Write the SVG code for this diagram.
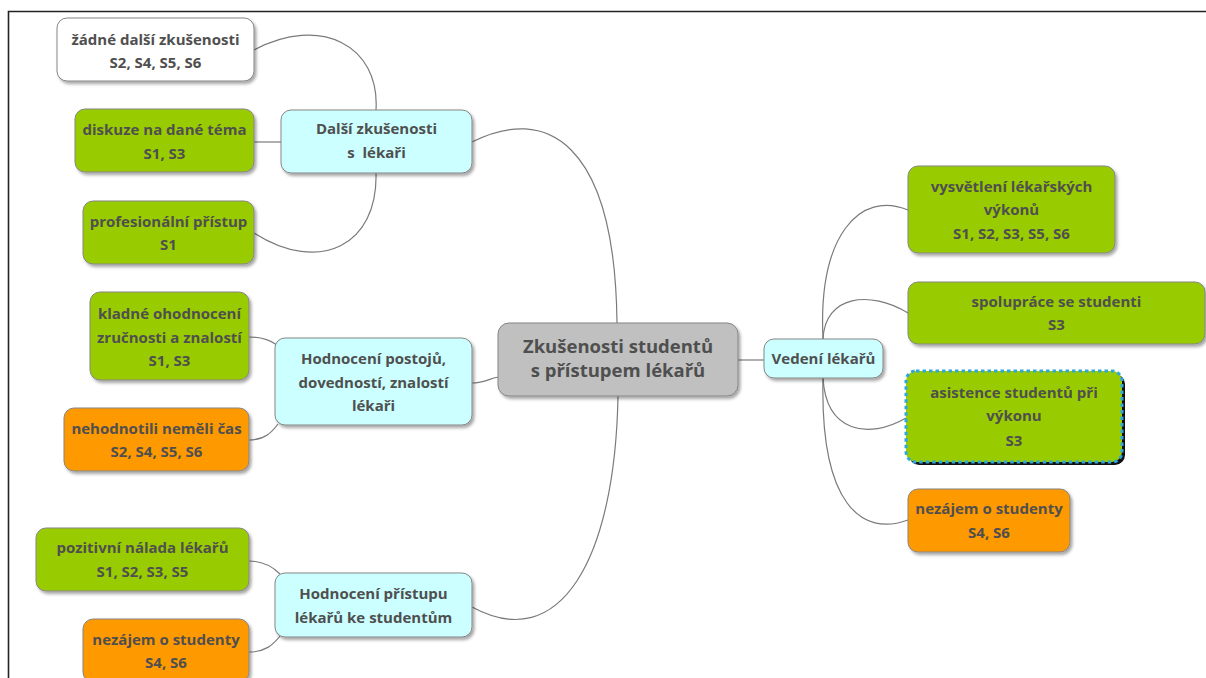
<svg xmlns="http://www.w3.org/2000/svg" width="1206" height="678" viewBox="0 0 1206 678">
  <style>
    .box { stroke: #858585; stroke-width: 1; filter: url(#shadow); }
    .root { fill: #c0c0c0; }
    .topic { fill: #ccffff; }
    .plus { fill: #99cc00; }
    .minus { fill: #ff9900; }
    .none { fill: #ffffff; }
    text { font-family: "Open Sans", "Liberation Sans", sans-serif; font-weight: 700; font-size: 15px; fill: #4f4f4f; text-anchor: middle; }
    text.big { font-size: 18.5px; }
    #connectors path { fill: none; stroke: #7a7a7a; stroke-width: 1.2; }
  </style>
  <defs>
    <filter id="shadow" x="-10%" y="-10%" width="125%" height="135%">
      <feDropShadow dx="2" dy="2.5" stdDeviation="1.5" flood-color="#000" flood-opacity="0.35"/>
    </filter>
  </defs>

  <rect width="1206" height="678" fill="#ffffff"/>
  <!-- frame -->
  <path d="M8.5,678 V11.5 H1206" fill="none" stroke="#222" stroke-width="1.6"/>

  <g id="connectors">
    <!-- root branches -->
    <path d="M472,142 C545,105 615,140 617,323"/>
    <path d="M472,383 C485,383 490,378 499,377"/>
    <path d="M472,607 C560,655 615,560 618,396"/>
    <path d="M738,360 H764"/>
    <!-- Další zkušenosti -->
    <path d="M376,110 C380,45 320,15 254,50"/>
    <path d="M254,142 H281"/>
    <path d="M376,173 C378,245 320,275 254,233"/>
    <!-- Hodnocení postojů -->
    <path d="M249,337 C262,337 270,340 277,345"/>
    <path d="M249,440 C265,440 272,432 278,424"/>
    <!-- Hodnocení přístupu -->
    <path d="M249,561 C263,561 272,566 280,574"/>
    <path d="M249,652 C265,652 273,645 280,636"/>
    <!-- Vedení lékařů -->
    <path d="M823,339 C818,235 860,190 908,210"/>
    <path d="M823,339 C825,295 870,290 908,313"/>
    <path d="M823,378 C826,432 868,440 906,418"/>
    <path d="M823,378 C820,505 862,537 908,520"/>
  </g>

  <g id="root">
    <rect class="box root" x="498" y="323" width="240" height="73" rx="11"/>
    <text class="big" x="618" y="353">Zkušenosti studentů</text>
    <text class="big" x="618" y="377">s přístupem lékařů</text>
  </g>

  <g id="dalsi">
    <rect class="box topic" x="281" y="110" width="191" height="63" rx="10"/>
    <text x="376.5" y="134">Další zkušenosti</text>
    <text x="376.5" y="158" xml:space="preserve">s  lékaři</text>
  </g>

  <g id="zadne">
    <rect class="box none" x="57" y="18" width="197" height="63" rx="10"/>
    <text x="155.5" y="44.5">žádné další zkušenosti</text>
    <text x="155.5" y="68">S2, S4, S5, S6</text>
  </g>

  <g id="diskuze">
    <rect class="box plus" x="75" y="109" width="179" height="63" rx="10"/>
    <text x="164.5" y="135">diskuze na dané téma</text>
    <text x="164.5" y="159">S1, S3</text>
  </g>

  <g id="profesionalni">
    <rect class="box plus" x="83" y="201" width="171" height="63" rx="10"/>
    <text x="168.5" y="227">profesionální přístup</text>
    <text x="168.5" y="250">S1</text>
  </g>

  <g id="postoje">
    <rect class="box topic" x="275" y="338" width="197" height="87" rx="10"/>
    <text x="373.5" y="364">Hodnocení postojů,</text>
    <text x="373.5" y="388">dovedností, znalostí</text>
    <text x="373.5" y="411">lékaři</text>
  </g>

  <g id="kladne">
    <rect class="box plus" x="90" y="292" width="159" height="88" rx="10"/>
    <text x="169.5" y="319">kladné ohodnocení</text>
    <text x="169.5" y="343">zručnosti a znalostí</text>
    <text x="169.5" y="366">S1, S3</text>
  </g>

  <g id="nehodnotili">
    <rect class="box minus" x="64" y="408" width="185" height="63" rx="10"/>
    <text x="156.5" y="434">nehodnotili neměli čas</text>
    <text x="156.5" y="457">S2, S4, S5, S6</text>
  </g>

  <g id="pristup">
    <rect class="box topic" x="275" y="573" width="197" height="64" rx="10"/>
    <text x="373.5" y="599">Hodnocení přístupu</text>
    <text x="373.5" y="623">lékařů ke studentům</text>
  </g>

  <g id="pozitivni">
    <rect class="box plus" x="36" y="528" width="213" height="63" rx="10"/>
    <text x="142.5" y="553">pozitivní nálada lékařů</text>
    <text x="142.5" y="577">S1, S2, S3, S5</text>
  </g>

  <g id="nezajem-left">
    <rect class="box minus" x="83" y="619" width="166" height="63" rx="10"/>
    <text x="166" y="645">nezájem o studenty</text>
    <text x="166" y="668">S4, S6</text>
  </g>

  <g id="vedeni">
    <rect class="box topic" x="764" y="339" width="119" height="39" rx="10"/>
    <text x="823.5" y="364">Vedení lékařů</text>
  </g>

  <g id="vysvetleni">
    <rect class="box plus" x="908" y="166" width="207" height="87" rx="10"/>
    <text x="1011.5" y="192">vysvětlení lékařských</text>
    <text x="1011.5" y="215">výkonů</text>
    <text x="1011.5" y="239">S1, S2, S3, S5, S6</text>
  </g>

  <g id="spoluprace">
    <rect class="box plus" x="908" y="282" width="297" height="62" rx="10"/>
    <text x="1056.5" y="307">spolupráce se studenti</text>
    <text x="1056.5" y="330">S3</text>
  </g>

  <g id="asistence">
    <rect x="909" y="374" width="216" height="91" rx="10" fill="#111"/>
    <rect x="906" y="371" width="216" height="91" rx="10" fill="#99cc00" stroke="#2fa6dc" stroke-width="3" stroke-dasharray="3.5 3"/>
    <text x="1014" y="398">asistence studentů při</text>
    <text x="1014" y="421">výkonu</text>
    <text x="1014" y="446">S3</text>
  </g>

  <g id="nezajem-right">
    <rect class="box minus" x="908" y="489" width="162" height="63" rx="10"/>
    <text x="989" y="514">nezájem o studenty</text>
    <text x="989" y="538">S4, S6</text>
  </g>
</svg>
